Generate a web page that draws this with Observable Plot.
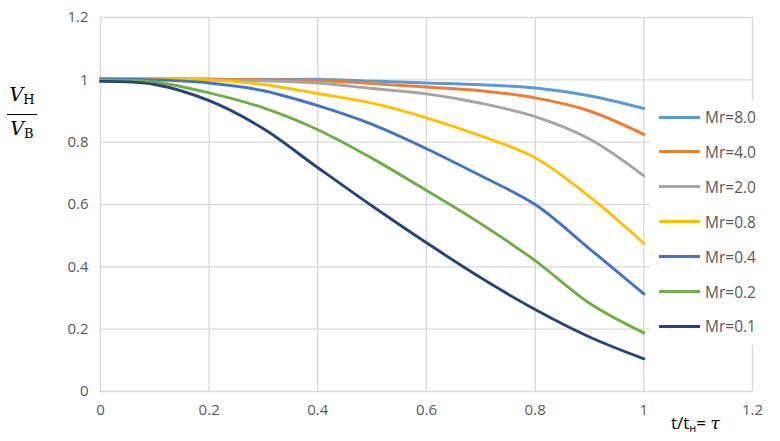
<!DOCTYPE html>
<html>
<head>
<meta charset="utf-8">
<script src="https://cdn.jsdelivr.net/npm/d3@7"></script>
<script src="https://cdn.jsdelivr.net/npm/@observablehq/plot@0.6"></script>
<style>
  body { margin: 0; background: #fff; }
  #wrap { position: relative; width: 780px; height: 441px; font-family: "Open Sans", sans-serif; }
  #legend { position: absolute; left: 650px; top: 100px; width: 122px; height: 245px; background: #fff; }
  .item { position: absolute; left: 0; height: 20px; display: flex; align-items: center; }
  .sw { width: 41px; height: 3px; margin-left: 9px; margin-right: 5px; }
  .lt { font-size: 15.5px; color: #595959; }
  .serif { font-family: "DejaVu Serif", "Liberation Serif", serif; }
</style>
</head>
<body>
<div id="wrap"></div>
<script>
const t = [0, 0.1, 0.2, 0.3, 0.4, 0.5, 0.6, 0.7, 0.8, 0.9, 1.0];
const seriesNames = ["Mr=8.0", "Mr=4.0", "Mr=2.0", "Mr=0.8", "Mr=0.4", "Mr=0.2", "Mr=0.1"];
const seriesColors = ["#5B9BD5", "#ED7D31", "#A5A5A5", "#FFC000", "#4472C4", "#70AD47", "#264478"];
const mr80 = [1.003, 1.003, 1.002, 1.001, 1.002, 0.996, 0.990, 0.984, 0.974, 0.949, 0.908];
const mr40 = [1.003, 1.003, 1.002, 1.000, 0.998, 0.988, 0.977, 0.965, 0.942, 0.900, 0.825];
const mr20 = [1.003, 1.003, 1.000, 0.997, 0.990, 0.972, 0.955, 0.925, 0.882, 0.810, 0.692];
const mr08 = [1.003, 1.003, 1.000, 0.985, 0.956, 0.925, 0.878, 0.820, 0.750, 0.625, 0.475];
const mr04 = [1.003, 1.000, 0.990, 0.965, 0.917, 0.857, 0.779, 0.692, 0.600, 0.458, 0.313];
const mr02 = [1.000, 0.993, 0.958, 0.910, 0.840, 0.748, 0.645, 0.538, 0.420, 0.283, 0.188];
const mr01 = [0.995, 0.985, 0.933, 0.843, 0.718, 0.595, 0.477, 0.365, 0.263, 0.175, 0.105];
const xTicks = [0, 0.2, 0.4, 0.6, 0.8, 1, 1.2];
const yTicks = [0, 0.2, 0.4, 0.6, 0.8, 1, 1.2];

const allSeries = [mr80, mr40, mr20, mr08, mr04, mr02, mr01];
const data = [];
allSeries.forEach((vals, i) => vals.forEach((v, j) => data.push({t: t[j], v, s: seriesNames[i]})));
const fmt = d => String(+d.toFixed(1));

const chart = Plot.plot({
  width: 780, height: 441,
  marginLeft: 100, marginRight: 28, marginTop: 17, marginBottom: 50,
  style: {fontFamily: "Open Sans, sans-serif", fontSize: "15px", color: "#595959", background: "#fff"},
  x: {domain: [0, 1.2]},
  y: {domain: [0, 1.2]},
  color: {domain: seriesNames, range: seriesColors},
  marks: [
    Plot.gridX(xTicks, {stroke: "#d9d9d9", strokeOpacity: 1, strokeWidth: 1.4}),
    Plot.gridY(yTicks, {stroke: "#d9d9d9", strokeOpacity: 1, strokeWidth: 1.4}),
    Plot.line(data, {x: "t", y: "v", z: "s", stroke: "s", strokeWidth: 2.9, curve: "catmull-rom"}),
    Plot.axisX(xTicks, {tickSize: 0, tickPadding: 13, label: null, fill: "#595959", tickFormat: fmt}),
    Plot.axisY(yTicks, {tickSize: 0, tickPadding: 12, label: null, fill: "#595959", tickFormat: fmt})
  ]
});

const wrap = document.getElementById("wrap");
wrap.appendChild(chart);
chart.style.position = "absolute";
chart.style.left = "0"; chart.style.top = "0";

// legend
const legend = document.createElement("div");
legend.id = "legend";
seriesNames.forEach((name, i) => {
  const it = document.createElement("div");
  it.className = "item";
  it.style.top = (7 + i * 34.9) + "px";
  it.innerHTML = `<div class="sw" style="background:${seriesColors[i]}"></div><span class="lt">${name}</span>`;
  legend.appendChild(it);
});
wrap.appendChild(legend);

// y-axis label (fraction)
const ylab = document.createElement("div");
ylab.className = "serif";
ylab.style.cssText = "position:absolute;left:7px;top:82px;width:30px;text-align:center;color:#000;";
ylab.innerHTML = `<div style="font-size:19px;font-style:italic;line-height:24px;">V<span style="font-size:13px;font-style:normal;vertical-align:-3px;">Н</span></div>
<div style="border-top:1.3px solid #000;margin:2px 0 1px 0;"></div>
<div style="font-size:19px;font-style:italic;line-height:24px;">V<span style="font-size:13px;font-style:normal;vertical-align:-3px;">В</span></div>`;
wrap.appendChild(ylab);

// x-axis label
const xlab = document.createElement("div");
xlab.style.cssText = "position:absolute;left:671px;top:411px;font-size:17px;color:#000;font-family:'Open Sans',sans-serif;white-space:nowrap;";
xlab.innerHTML = `t/t<span style="font-size:11px;vertical-align:-3px;">н</span>= <span class="serif" style="font-style:italic;">τ</span>`;
wrap.appendChild(xlab);
</script>
</body>
</html>
